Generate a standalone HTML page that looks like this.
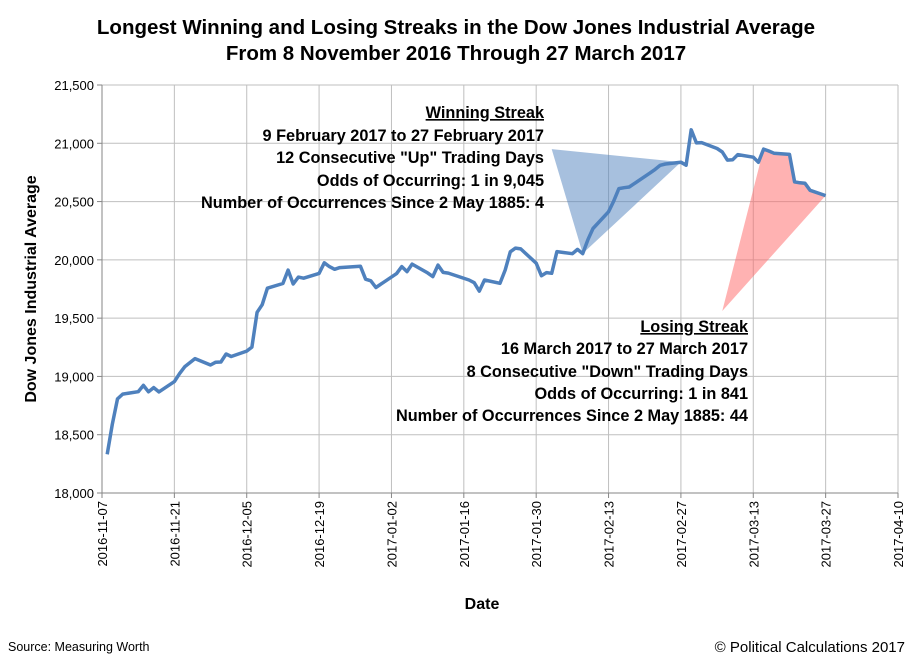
<!DOCTYPE html>
<html><head><meta charset="utf-8"><style>
body{margin:0;background:#fff;}
svg{display:block;font-family:"Liberation Sans",Arial,sans-serif;}
</style></head><body>
<svg id="chart" width="912" height="661" viewBox="0 0 912 661">
<rect width="912" height="661" fill="#fff"/>
<g font-weight="bold" font-size="20.5" text-anchor="middle" fill="#000">
<text x="456" y="34">Longest Winning and Losing Streaks in the Dow Jones Industrial Average</text>
<text x="456" y="60">From 8 November 2016 Through 27 March 2017</text>
</g>
<g id="grid"></g>
<g id="annots"></g>
<path id="line" fill="none" stroke="#4f81bd" stroke-width="3.5" stroke-linejoin="round"/>
<g id="axes"></g>
<g font-weight="bold" font-size="16.3" text-anchor="end">
<text x="544" y="118" text-decoration="underline">Winning Streak</text>
<text x="544" y="141">9 February 2017 to 27 February 2017</text>
<text x="544" y="163">12 Consecutive "Up" Trading Days</text>
<text x="544" y="186">Odds of Occurring: 1 in 9,045</text>
<text x="544" y="208">Number of Occurrences Since 2 May 1885: 4</text>
</g>
<g font-weight="bold" font-size="16.3" text-anchor="end">
<text x="748" y="332" text-decoration="underline">Losing Streak</text>
<text x="748" y="354">16 March 2017 to 27 March 2017</text>
<text x="748" y="377">8 Consecutive "Down" Trading Days</text>
<text x="748" y="399">Odds of Occurring: 1 in 841</text>
<text x="748" y="421">Number of Occurrences Since 2 May 1885: 44</text>
</g>
<text font-weight="bold" font-size="16" text-anchor="middle" transform="translate(36,289) rotate(-90)">Dow Jones Industrial Average</text>
<text font-weight="bold" font-size="16" text-anchor="middle" x="482" y="609">Date</text>
<text font-size="12.5" x="8" y="651">Source: Measuring Worth</text>
<text font-size="15" text-anchor="end" x="905" y="652">© Political Calculations 2017</text>
</svg>
<script>
const dates=["2016-11-08","2016-11-09","2016-11-10","2016-11-11","2016-11-14","2016-11-15","2016-11-16","2016-11-17","2016-11-18","2016-11-21","2016-11-22","2016-11-23","2016-11-25","2016-11-28","2016-11-29","2016-11-30","2016-12-01","2016-12-02","2016-12-05","2016-12-06","2016-12-07","2016-12-08","2016-12-09","2016-12-12","2016-12-13","2016-12-14","2016-12-15","2016-12-16","2016-12-19","2016-12-20","2016-12-21","2016-12-22","2016-12-23","2016-12-27","2016-12-28","2016-12-29","2016-12-30","2017-01-03","2017-01-04","2017-01-05","2017-01-06","2017-01-09","2017-01-10","2017-01-11","2017-01-12","2017-01-13","2017-01-17","2017-01-18","2017-01-19","2017-01-20","2017-01-23","2017-01-24","2017-01-25","2017-01-26","2017-01-27","2017-01-30","2017-01-31","2017-02-01","2017-02-02","2017-02-03","2017-02-06","2017-02-07","2017-02-08","2017-02-09","2017-02-10","2017-02-13","2017-02-14","2017-02-15","2017-02-16","2017-02-17","2017-02-21","2017-02-22","2017-02-23","2017-02-24","2017-02-27","2017-02-28","2017-03-01","2017-03-02","2017-03-03","2017-03-06","2017-03-07","2017-03-08","2017-03-09","2017-03-10","2017-03-13","2017-03-14","2017-03-15","2017-03-16","2017-03-17","2017-03-20","2017-03-21","2017-03-22","2017-03-23","2017-03-24","2017-03-27"];
const values=[18332,18589,18807,18848,18869,18923,18868,18904,18867,18956,19023,19083,19153,19098,19122,19124,19192,19171,19217,19252,19550,19615,19757,19797,19912,19793,19852,19843,19884,19975,19942,19919,19934,19946,19834,19820,19763,19882,19942,19899,19964,19888,19856,19955,19892,19886,19827,19804,19732,19827,19799,19913,20069,20101,20094,19971,19864,19891,19885,20071,20053,20090,20054,20173,20269,20412,20504,20611,20619,20625,20744,20776,20811,20822,20838,20812,21116,21003,21006,20955,20925,20856,20858,20903,20881,20837,20950,20934,20915,20905,20669,20661,20657,20597,20551];
const xTicks=["2016-11-07","2016-11-21","2016-12-05","2016-12-19","2017-01-02","2017-01-16","2017-01-30","2017-02-13","2017-02-27","2017-03-13","2017-03-27","2017-04-10"];
const yTicks=[18000,18500,19000,19500,20000,20500,21000,21500];
const winDates=["2017-02-02","2017-02-27","2017-02-08"];
const winValues=[20950,20838,20054];
const loseStart="2017-03-15";
const loseEnd="2017-03-27";
const loseApexDate="2017-03-07";
const loseApexValue=19561;

const X0=102,X1=898,Y0=493,Y1=85;
const t0=Date.parse("2016-11-07"),t1=Date.parse("2017-04-10");
const xs=d=>X0+(Date.parse(d)-t0)/(t1-t0)*(X1-X0);
const ys=v=>Y0-(v-18000)/3500*(Y0-Y1);
const NS="http://www.w3.org/2000/svg";
function mk(tag,parent){const e=document.createElementNS(NS,tag);parent.appendChild(e);return e;}
const grid=document.getElementById('grid'),axes=document.getElementById('axes');
yTicks.forEach(v=>{
 const l=mk('line',grid);
 
 
 l.setAttribute('x1',X0);l.setAttribute('x2',X1);l.setAttribute('y1',ys(v));l.setAttribute('y2',ys(v));
 l.setAttribute('stroke','#bfbfbf');l.setAttribute('stroke-width','1');
 const tk=mk('line',axes);
 
 
 tk.setAttribute('x1',X0-5);tk.setAttribute('x2',X0);tk.setAttribute('y1',ys(v));tk.setAttribute('y2',ys(v));tk.setAttribute('stroke','#868686');
 const t=mk('text',axes);
 
 
 t.setAttribute('x',X0-8);t.setAttribute('y',ys(v)+5);t.setAttribute('text-anchor','end');t.setAttribute('font-size','13');
 t.textContent=v.toLocaleString('en-US');
});
xTicks.forEach(d=>{
 const x=xs(d);
 const l=mk('line',grid);
 
 
 l.setAttribute('x1',x);l.setAttribute('x2',x);l.setAttribute('y1',Y1);l.setAttribute('y2',Y0);
 l.setAttribute('stroke','#bfbfbf');l.setAttribute('stroke-width','1');
 const tk=mk('line',axes);
 
 
 tk.setAttribute('x1',x);tk.setAttribute('x2',x);tk.setAttribute('y1',Y0);tk.setAttribute('y2',Y0+5);tk.setAttribute('stroke','#868686');
 const t=mk('text',axes);
 
 
 t.setAttribute('font-size','13');t.setAttribute('text-anchor','end');
 t.setAttribute('transform',`translate(${x+5},${Y0+8}) rotate(-90)`);
 t.textContent=d;
});
const ax=mk('line',axes);


ax.setAttribute('x1',X0);ax.setAttribute('x2',X1);ax.setAttribute('y1',Y0);ax.setAttribute('y2',Y0);ax.setAttribute('stroke','#868686');
const ay=mk('line',axes);


ay.setAttribute('x1',X0);ay.setAttribute('x2',X0);ay.setAttribute('y1',Y1);ay.setAttribute('y2',Y0);ay.setAttribute('stroke','#868686');
const an=document.getElementById('annots');
const pw=mk('polygon',an);


pw.setAttribute('points',winDates.map((d,i)=>xs(d)+','+ys(winValues[i])).join(' '));
pw.setAttribute('fill','#4f81bd');pw.setAttribute('fill-opacity','0.5');
const pl=mk('polygon',an);


const lp=[xs(loseApexDate)+','+ys(loseApexValue)];
dates.forEach((d,i)=>{if(d>=loseStart&&d<=loseEnd)lp.push(xs(d)+','+ys(values[i]));});
pl.setAttribute('points',lp.join(' '));
pl.setAttribute('fill','#ff6666');pl.setAttribute('fill-opacity','0.5');
document.getElementById('line').setAttribute('d',dates.map((d,i)=>(i?'L':'M')+xs(d).toFixed(1)+','+ys(values[i]).toFixed(1)).join(''));
</script>
</body></html>
